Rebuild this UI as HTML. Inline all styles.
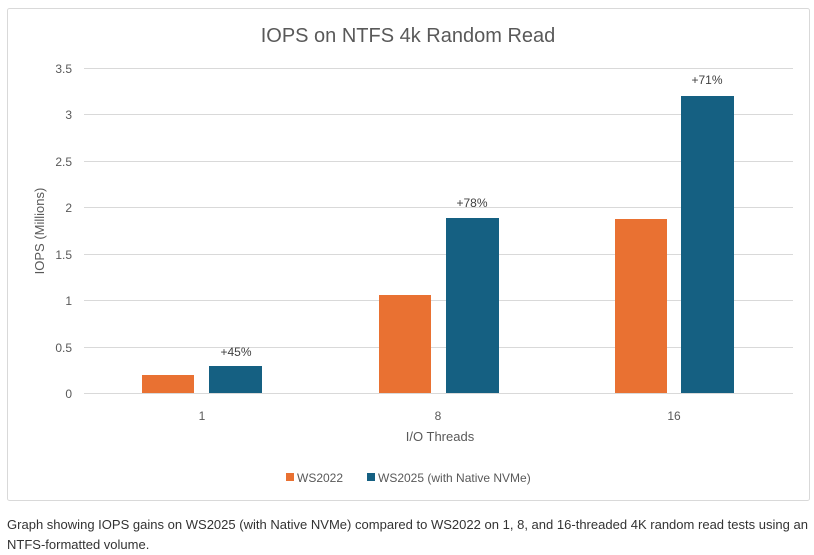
<!DOCTYPE html>
<html><head><style>
body{margin:0;background:#fff;width:814px;height:555px;overflow:hidden;font-family:"Liberation Sans",sans-serif}
</style></head><body>
<svg width="814" height="555" xmlns="http://www.w3.org/2000/svg" style="position:absolute;left:0;top:0">
<rect x="7.5" y="8.5" width="802" height="492" fill="#fff" stroke="#d9d9d9" rx="2"/>
<text x="408" y="42" text-anchor="middle" font-size="20" fill="#595959">IOPS on NTFS 4k Random Read</text>
<g stroke="#d9d9d9" stroke-width="1">
<line x1="84" x2="793" y1="68.5" y2="68.5"/><line x1="84" x2="793" y1="114.5" y2="114.5"/>
<line x1="84" x2="793" y1="161.5" y2="161.5"/><line x1="84" x2="793" y1="207.5" y2="207.5"/>
<line x1="84" x2="793" y1="254.5" y2="254.5"/><line x1="84" x2="793" y1="300.5" y2="300.5"/>
<line x1="84" x2="793" y1="347.5" y2="347.5"/><line x1="84" x2="793" y1="393.5" y2="393.5"/>
</g>
<g font-size="12" fill="#595959" text-anchor="end">
<text x="72" y="73">3.5</text><text x="72" y="119">3</text><text x="72" y="166">2.5</text>
<text x="72" y="212">2</text><text x="72" y="259">1.5</text><text x="72" y="305">1</text>
<text x="72" y="352">0.5</text><text x="72" y="398">0</text>
</g>
<text transform="translate(44,231) rotate(-90)" text-anchor="middle" font-size="13" fill="#595959">IOPS (Millions)</text>
<g fill="#e97132">
<rect x="142" y="375" width="52" height="18"/><rect x="379" y="295" width="52" height="98"/><rect x="615" y="219" width="52" height="174"/>
</g>
<g fill="#156082">
<rect x="209" y="366" width="53" height="27"/><rect x="446" y="218" width="53" height="175"/><rect x="681" y="96" width="53" height="297"/>
</g>
<g font-size="12" fill="#404040" text-anchor="middle">
<text x="236" y="356">+45%</text><text x="472" y="207">+78%</text><text x="707" y="84">+71%</text>
</g>
<g font-size="12" fill="#595959" text-anchor="middle">
<text x="202" y="420">1</text><text x="438" y="420">8</text><text x="674" y="420">16</text>
</g>
<text x="440" y="441" text-anchor="middle" font-size="13" fill="#595959">I/O Threads</text>
<rect x="286" y="473" width="8" height="8" fill="#e97132"/>
<text x="297" y="482" font-size="12" fill="#595959">WS2022</text>
<rect x="367" y="473" width="8" height="8" fill="#156082"/>
<text x="378" y="482" font-size="12" fill="#595959">WS2025 (with Native NVMe)</text>
<text x="7" y="529" font-size="13" fill="#333" textLength="801" lengthAdjust="spacingAndGlyphs">Graph showing IOPS gains on WS2025 (with Native NVMe) compared to WS2022 on 1, 8, and 16-threaded 4K random read tests using an</text>
<text x="7" y="549" font-size="13" fill="#333">NTFS-formatted volume.</text>
</svg>
</body></html>
